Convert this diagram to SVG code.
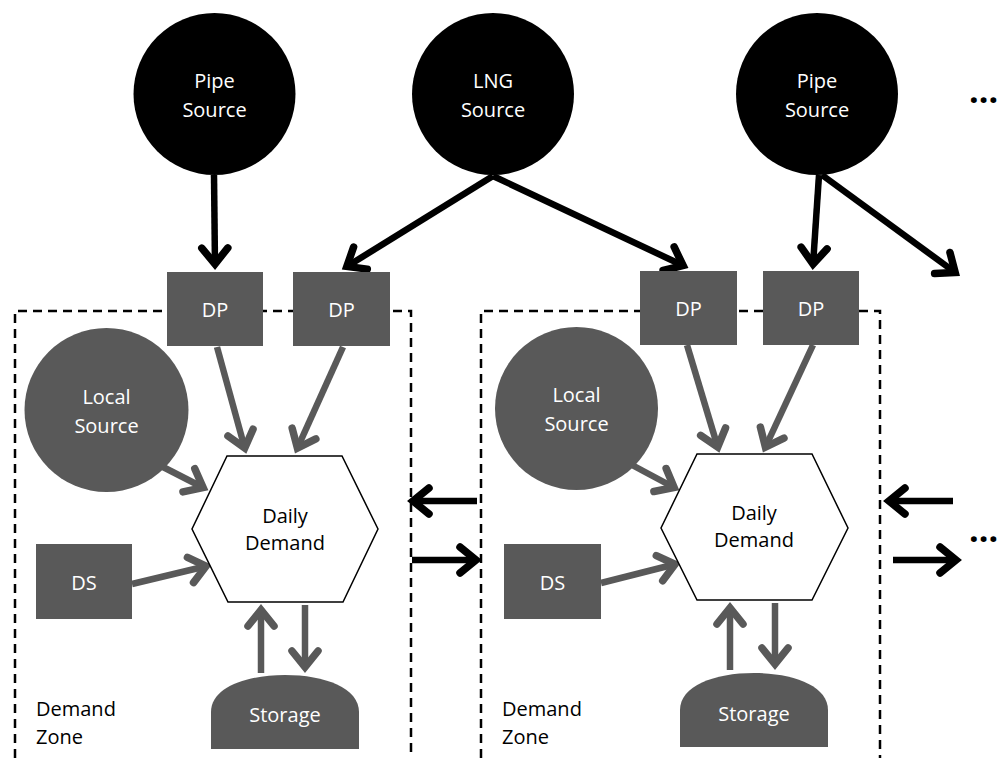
<svg xmlns="http://www.w3.org/2000/svg" width="1000" height="758" viewBox="0 0 1000 758">
<style>
  text { font-family: "Open Sans", "Liberation Sans", sans-serif; font-size: 20px; text-anchor: middle; }
  .w { fill: #ffffff; }
  .k { fill: #000000; }
  .gray { fill: #595959; }
  .zone { fill: none; stroke: #000; stroke-width: 2.5; stroke-dasharray: 9 6; }
  .hex { fill: #fff; stroke: #000; stroke-width: 1.5; }
  .ab { fill: none; stroke: #000; stroke-width: 6.5; stroke-linecap: butt; marker-end: url(#hb); }
  .ag { fill: none; stroke: #595959; stroke-width: 6.5; stroke-linecap: butt; marker-end: url(#hg); }
  .dots { font-size: 34px; font-weight: bold; text-anchor: start; }
</style>
<defs>
  <marker id="hb" markerUnits="userSpaceOnUse" viewBox="-26 -20 32 40" refX="0" refY="0" markerWidth="32" markerHeight="40" orient="auto" overflow="visible">
    <path d="M-17,-13 L-1,0 L-17,13" fill="none" stroke="#000" stroke-width="7.5" stroke-linecap="round" stroke-linejoin="miter" stroke-miterlimit="10"/>
  </marker>
  <marker id="hg" markerUnits="userSpaceOnUse" viewBox="-26 -20 32 40" refX="0" refY="0" markerWidth="32" markerHeight="40" orient="auto" overflow="visible">
    <path d="M-17,-13 L-1,0 L-17,13" fill="none" stroke="#595959" stroke-width="7.5" stroke-linecap="round" stroke-linejoin="miter" stroke-miterlimit="10"/>
  </marker>
</defs>
<rect width="1000" height="758" fill="#fff"/>

<g id="zone1">
  <path class="zone" d="M15,758 V311 H411 V758"/>
  <text class="k" style="text-anchor:start" x="36" y="716">Demand</text>
  <text class="k" style="text-anchor:start" x="36" y="744">Zone</text>
</g>
<g id="zone2">
  <path class="zone" d="M481,758 V311 H880 V758"/>
  <text class="k" style="text-anchor:start" x="502" y="716">Demand</text>
  <text class="k" style="text-anchor:start" x="502" y="744">Zone</text>
</g>

<g id="connectors">
  <line class="ab" x1="214" y1="175" x2="215" y2="265"/>
  <line class="ab" x1="493" y1="176" x2="346" y2="267"/>
  <line class="ab" x1="493" y1="176" x2="684" y2="266"/>
  <line class="ab" x1="819" y1="175" x2="813" y2="265"/>
  <line class="ab" x1="822" y1="175" x2="956" y2="273"/>

  <line class="ag" x1="217" y1="347" x2="245" y2="449"/>
  <line class="ag" x1="343" y1="347" x2="297" y2="449"/>
  <line class="ag" x1="163" y1="467" x2="204" y2="488"/>
  <line class="ag" x1="132" y1="584" x2="207" y2="566"/>
  <line class="ag" x1="261" y1="673" x2="261" y2="609"/>
  <line class="ag" x1="305" y1="605" x2="305" y2="668"/>

  <line class="ag" x1="687" y1="345" x2="718" y2="448"/>
  <line class="ag" x1="813" y1="345" x2="765" y2="448"/>
  <line class="ag" x1="632" y1="465" x2="675" y2="488"/>
  <line class="ag" x1="601" y1="583" x2="676" y2="564"/>
  <line class="ag" x1="730" y1="670" x2="730" y2="607"/>
  <line class="ag" x1="775" y1="603" x2="775" y2="665"/>

  <line class="ab" x1="477" y1="501" x2="412" y2="501"/>
  <line class="ab" x1="412" y1="560" x2="477" y2="560"/>
  <line class="ab" x1="953" y1="501" x2="888" y2="501"/>
  <line class="ab" x1="893" y1="560" x2="957" y2="560"/>
</g>

<g id="pipe-source-1">
  <circle cx="214.5" cy="94" r="81" fill="#000"/>
  <text class="w" x="214.5" y="88">Pipe</text>
  <text class="w" x="214.5" y="117">Source</text>
</g>
<g id="lng-source">
  <circle cx="493" cy="94" r="81" fill="#000"/>
  <text class="w" x="493" y="88">LNG</text>
  <text class="w" x="493" y="117">Source</text>
</g>
<g id="pipe-source-2">
  <circle cx="817" cy="94" r="81" fill="#000"/>
  <text class="w" x="817" y="88">Pipe</text>
  <text class="w" x="817" y="117">Source</text>
</g>
<g id="dots-top"><text class="k dots" x="969" y="103">...</text></g>
<g id="dots-right"><text class="k dots" x="969" y="542">...</text></g>

<g id="dp1"><rect class="gray" x="167" y="272" width="96" height="74"/><text class="w" x="215" y="317">DP</text></g>
<g id="dp2"><rect class="gray" x="293" y="272" width="97" height="74"/><text class="w" x="341.5" y="317">DP</text></g>
<g id="dp3"><rect class="gray" x="640" y="271" width="97" height="74"/><text class="w" x="688.5" y="316">DP</text></g>
<g id="dp4"><rect class="gray" x="763" y="271" width="96" height="74"/><text class="w" x="811" y="316">DP</text></g>

<g id="local-source-1">
  <circle class="gray" cx="106.5" cy="410" r="82"/>
  <text class="w" x="106.5" y="404">Local</text>
  <text class="w" x="106.5" y="433">Source</text>
</g>
<g id="local-source-2">
  <circle class="gray" cx="576.5" cy="408.5" r="81.5"/>
  <text class="w" x="576.5" y="402">Local</text>
  <text class="w" x="576.5" y="431">Source</text>
</g>

<g id="daily-demand-1">
  <polygon class="hex" points="227,456 342,456 378,529 343,602 228,602 192,529"/>
  <text class="k" x="285" y="523">Daily</text>
  <text class="k" x="285" y="550">Demand</text>
</g>
<g id="daily-demand-2">
  <polygon class="hex" points="697,454 812,454 848,528 812,600 697,600 661,528"/>
  <text class="k" x="754" y="520">Daily</text>
  <text class="k" x="754" y="547">Demand</text>
</g>

<g id="ds1"><rect class="gray" x="36" y="544" width="96" height="75"/><text class="w" x="84" y="590">DS</text></g>
<g id="ds2"><rect class="gray" x="504" y="544" width="97" height="75"/><text class="w" x="552.5" y="590">DS</text></g>

<g id="storage-1">
  <path class="gray" d="M211,749 V712 C211,688 245,675 285,675 C325,675 359,688 359,712 V749 Z"/>
  <text class="w" x="285" y="722">Storage</text>
</g>
<g id="storage-2">
  <path class="gray" d="M680,747 V710 C680,686 714,673 754,673 C794,673 828,686 828,710 V747 Z"/>
  <text class="w" x="754" y="721">Storage</text>
</g>
</svg>
